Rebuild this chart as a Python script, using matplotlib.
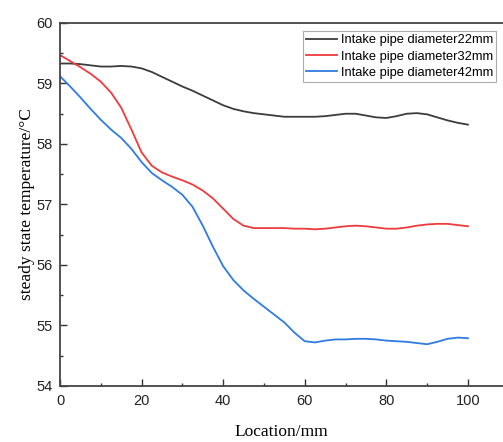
import matplotlib
matplotlib.use("Agg")

import matplotlib.pyplot as plt
from matplotlib.ticker import MultipleLocator

# location along pipe (mm)
location = [0, 2.5, 5, 7.5, 10, 12.5, 15, 17.5, 20, 22.5, 25, 27.5, 30, 32.5, 35,
            37.5, 40, 42.5, 45, 47.5, 50, 52.5, 55, 57.5, 60, 62.5, 65, 67.5, 70,
            72.5, 75, 77.5, 80, 82.5, 85, 87.5, 90, 92.5, 95, 97.5, 100]

temp_22 = [59.33, 59.33, 59.32, 59.30, 59.28, 59.28, 59.29, 59.28, 59.25, 59.19,
           59.11, 59.03, 58.95, 58.88, 58.80, 58.72, 58.64, 58.58, 58.54, 58.51,
           58.49, 58.47, 58.45, 58.45, 58.45, 58.45, 58.46, 58.48, 58.50, 58.50,
           58.47, 58.44, 58.43, 58.46, 58.50, 58.51, 58.49, 58.44, 58.39, 58.35,
           58.32]

temp_32 = [59.47, 59.37, 59.27, 59.16, 59.03, 58.85, 58.60, 58.24, 57.86, 57.64,
           57.53, 57.46, 57.40, 57.33, 57.23, 57.10, 56.93, 56.76, 56.65, 56.61,
           56.61, 56.61, 56.61, 56.60, 56.60, 56.59, 56.60, 56.62, 56.64, 56.65,
           56.64, 56.62, 56.60, 56.60, 56.62, 56.65, 56.67, 56.68, 56.68, 56.66,
           56.64]

temp_42 = [59.12, 58.95, 58.77, 58.58, 58.40, 58.24, 58.10, 57.92, 57.70, 57.52,
           57.40, 57.29, 57.16, 56.96, 56.65, 56.30, 55.98, 55.75, 55.58, 55.44,
           55.31, 55.18, 55.05, 54.88, 54.74, 54.72, 54.75, 54.77, 54.77, 54.78,
           54.78, 54.77, 54.75, 54.74, 54.73, 54.71, 54.69, 54.73, 54.78, 54.80,
           54.79]

labels = ["Intake pipe diameter22mm", "Intake pipe diameter32mm",
          "Intake pipe diameter42mm"]

fig = plt.figure(figsize=(5.03, 4.42), dpi=100)
ax = fig.add_axes([0.1193, 0.1267, 0.8807, 0.8213])

ax.plot(location, temp_22, color="#3c3c3c", lw=1.3, label=labels[0])
ax.plot(location, temp_32, color="#ee3b3e", lw=1.3, label=labels[1])
ax.plot(location, temp_42, color="#2f7be2", lw=1.3, label=labels[2])

ax.set_xlim(0, 108.6)
ax.set_ylim(54, 60)
ax.set_xticks([0, 20, 40, 60, 80, 100])
ax.set_yticks([54, 55, 56, 57, 58, 59, 60])
ax.xaxis.set_minor_locator(MultipleLocator(10))
ax.yaxis.set_minor_locator(MultipleLocator(0.5))
ax.tick_params(which="both", direction="in", top=False, right=False,
               width=1.0, color="#333333")
ax.tick_params(which="major", length=5, labelsize=10.5)
ax.tick_params(which="minor", length=2.5)
ax.tick_params(axis="x", which="major", pad=6)
ax.tick_params(axis="y", which="major", pad=5)
for lab in ax.get_xticklabels() + ax.get_yticklabels():
    lab.set_family("Liberation Sans")
    lab.set_color("#222222")

for side in ["left", "bottom", "top"]:
    ax.spines[side].set_linewidth(1.3)
    ax.spines[side].set_color("#444444")
ax.spines["right"].set_visible(False)

ax.set_xlabel("Location/mm", family="Liberation Serif", fontsize=12.5, labelpad=11)
ax.set_ylabel("steady state temperature/\u00b0C", family="Liberation Serif",
              fontsize=12.5, labelpad=1)

leg = ax.legend(loc="upper right", bbox_to_anchor=(0.985, 0.978),
                prop={"family": "Liberation Sans", "size": 9.3},
                frameon=True, fancybox=False, borderpad=0.25, labelspacing=0.33,
                handlelength=2.4, handletextpad=0.3, borderaxespad=0.0)
leg.get_frame().set_edgecolor("#999999")
leg.get_frame().set_linewidth(0.8)

plt.savefig("out.png", dpi=100)
plt.close()
